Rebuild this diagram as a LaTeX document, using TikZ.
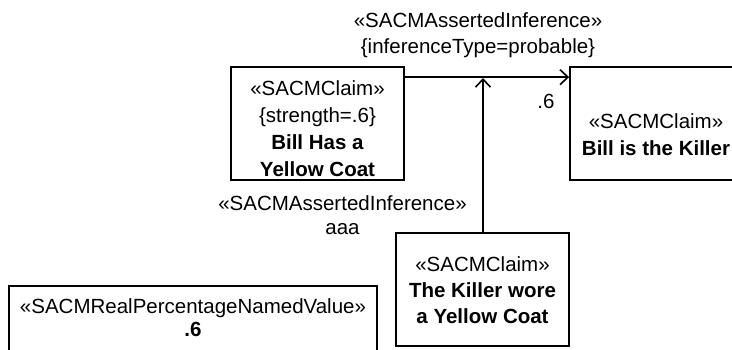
\documentclass[tikz,border=0pt]{standalone}
\usepackage{fontspec}
\setmainfont{Liberation Sans}
\usetikzlibrary{arrows.meta,fit}
\tikzset{
  umlbox/.style={draw, line width=1.7pt, inner sep=0pt},
  txt/.style={anchor=north, inner sep=0pt, align=center, font=\fontsize{20.5}{27}\selectfont},
  tight/.style={font=\fontsize{20.5}{23}\selectfont},
  mid/.style={font=\fontsize{20.5}{24}\selectfont},
  conn/.style={line width=1.7pt, -{Straight Barb[length=8pt,width=15pt,line width=1.6pt]}}
}
\begin{document}
\begin{tikzpicture}[x=1pt,y=-1pt]
\useasboundingbox (0,0) rectangle (732,349);
% boxes
\node[umlbox, fit={(231,67) (404,180)}] (a) {};
\node[umlbox, fit={(570,67) (744,180)}] (b) {};
\node[umlbox, fit={(396,233) (569,346)}] (c) {};
\node[umlbox, fit={(9,286) (377,362)}] (d) {};
% texts
\node[txt] (ta) at (317.5,80.5) {«SACMClaim»\\\{strength=.6\}\\\textbf{Bill Has a}\\\textbf{Yellow Coat}};
\node[txt] (tb) at (656,113.5) {«SACMClaim»\\\textbf{Bill is the Killer}};
\node[txt, font=\fontsize{20.5}{26}\selectfont] (tc) at (482.5,256.5) {«SACMClaim»\\\textbf{The Killer wore}\\\textbf{a Yellow Coat}};
\node[txt, tight] (td) at (193,298.5) {«SACMRealPercentageNamedValue»\\\textbf{.6}};
\node[txt, font=\fontsize{20.5}{26}\selectfont] (l1) at (478,12.5) {«SACMAssertedInference»\\\{inferenceType=probable\}};
\node[txt, mid] (l2) at (342.5,195.5) {«SACMAssertedInference»\\aaa};
\node[anchor=base, inner sep=0pt, font=\fontsize{20.5}{24}\selectfont] (m) at (546,108) {.6};
% connectors
\coordinate (j) at (483,78);
\draw[conn] ([yshift=-11pt]a.north east) -- ([yshift=-11pt]b.north west);
\draw[conn] (c.north -| j) -- (j);
\end{tikzpicture}
\end{document}
